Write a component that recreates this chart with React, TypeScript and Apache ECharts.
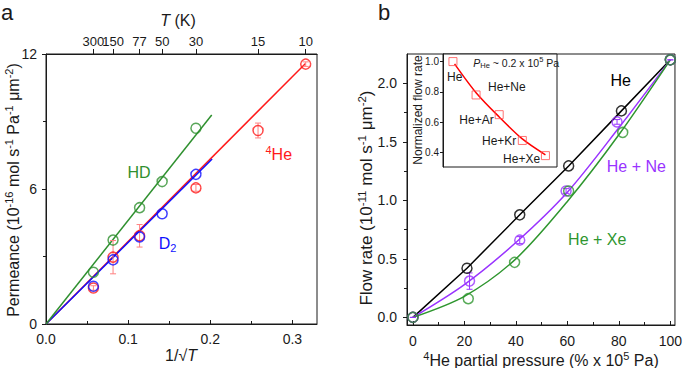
import { useEffect, useRef } from 'react';
import * as echarts from 'echarts';

// ---------- Panel a data ----------
const temperatures = [300, 150, 77, 50, 30, 15, 10];
const he4Permeance = [1.6, 2.97, 3.92, null, 6.05, 8.6, 11.55];
const he4Error = [0.1, 0.74, 0.5, null, 0.15, 0.33, 0.1];
const d2Permeance = [1.68, 2.85, 3.87, 4.9, 6.65, null, null];
const hdPermeance = [2.3, 3.73, 5.17, 6.33, 8.7, null, null];
const he4Fit = [[0, 0], [0.316, 11.58]];
const d2Fit = [[0, 0], [0.2023, 7.33]];
const hdFit = [[0, 0], [0.2018, 9.29]];
const aXTicks = [0, 0.1, 0.2, 0.3];
const aXMinor = [0.05, 0.15, 0.25];
const aYTicks = [0, 6, 12];
const aYMinor = [3, 9];

// ---------- Panel b data ----------
const heX = [0, 21, 41.5, 60.5, 81, 100];
const heY = [0, 0.42, 0.876, 1.294, 1.764, 2.2];
const neX = [0, 22, 41.5, 59.5, 79.3, 100];
const neY = [0, 0.31, 0.66, 1.08, 1.67, 2.2];
const neErr = [0, 0.07, 0.03, 0.02, 0.02, 0];
const xeX = [0, 21.5, 39.5, 60.5, 81.5, 100];
const xeY = [0, 0.16, 0.47, 1.08, 1.58, 2.2];
const neFit = [[0, 0], [20, 0.28], [40, 0.64], [60, 1.07], [80, 1.62], [100, 2.2]];
const xeFit = [[0, 0], [20, 0.18], [40, 0.5], [60, 0.99], [80, 1.56], [100, 2.2]];
const bXTicks = [0, 20, 40, 60, 80, 100];
const bXMinor = [10, 30, 50, 70, 90];
const bYTicks = [0, 0.5, 1.0, 1.5, 2.0];
const bYMinor = [0.25, 0.75, 1.25, 1.75];

// ---------- Inset data ----------
const mixtures = ['He', 'He+Ne', 'He+Ar', 'He+Kr', 'He+Xe'];
const mixtureIndex = [1, 2, 3, 4, 5];
const normFlow = [1.0, 0.78, 0.65, 0.48, 0.38];
const insetFit = [[1.07, 0.985], [2, 0.795], [3, 0.635], [4, 0.49], [5, 0.385]];
const insetYTicks = [0.4, 0.6, 0.8, 1.0];

const FONT = '"Liberation Sans", Arial, Helvetica, sans-serif';
const AX = '#1a1a1a';
const RED = '#ff1a1a';
const BLUE = '#1010ff';
const GREEN_A = '#2f902f';
const GREEN_B = '#2f962f';
const PURPLE = '#9933ff';

const pairs = (xs: number[], ys: (number | null)[]) =>
  xs.map((x, i) => (ys[i] == null ? null : [x, ys[i] as number])).filter(Boolean) as number[][];
const invSqrtT = temperatures.map((t) => 1 / Math.sqrt(t));

function baseAxis(extra: any) {
  return {
    type: 'value',
    splitLine: { show: false },
    axisLine: { show: true, onZero: false, lineStyle: { color: AX, width: 1 } },
    ...extra,
  };
}

function errorSeries(points: number[][], color: string, xi: number, yi: number) {
  return {
    type: 'custom',
    xAxisIndex: xi,
    yAxisIndex: yi,
    data: points,
    encode: { x: 0, y: 1 },
    silent: true,
    z: 3,
    renderItem: (_p: any, api: any) => {
      const x = api.value(0);
      const y = api.value(1);
      const e = api.value(2);
      const top = api.coord([x, y + e]);
      const bot = api.coord([x, y - e]);
      const w = 3;
      const st = { stroke: color, lineWidth: 1 };
      return {
        type: 'group',
        children: [
          { type: 'line', shape: { x1: top[0], y1: top[1], x2: bot[0], y2: bot[1] }, style: st },
          { type: 'line', shape: { x1: top[0] - w, y1: top[1], x2: top[0] + w, y2: top[1] }, style: st },
          { type: 'line', shape: { x1: bot[0] - w, y1: bot[1], x2: bot[0] + w, y2: bot[1] }, style: st },
        ],
      };
    },
  };
}

function scatter(data: number[][], color: string, xi: number, yi: number, size = 10) {
  return {
    type: 'scatter',
    xAxisIndex: xi,
    yAxisIndex: yi,
    data,
    symbol: 'circle',
    symbolSize: size,
    itemStyle: { color: 'rgba(0,0,0,0)', borderColor: color, borderWidth: 1.5 },
    z: 4,
  };
}

function fitLine(data: number[][], color: string, xi: number, yi: number, smooth: boolean | number = false) {
  return {
    type: 'line',
    xAxisIndex: xi,
    yAxisIndex: yi,
    data,
    symbol: 'none',
    smooth,
    lineStyle: { color, width: 1.5 },
    silent: true,
    z: 2,
  };
}

const tickLabel = (size: number, margin: number, customValues: number[], formatter: any) => ({
  customValues,
  formatter,
  fontSize: size,
  fontFamily: FONT,
  color: AX,
  margin,
});

const option: any = {
  animation: false,
  backgroundColor: '#ffffff',
  textStyle: { fontFamily: FONT },
  grid: [
    { left: 46, top: 54, width: 271, height: 270, show: true, borderColor: AX, borderWidth: 1, backgroundColor: 'rgba(0,0,0,0)' },
    { left: 407, top: 54, width: 271, height: 271, show: true, borderColor: AX, borderWidth: 1, backgroundColor: 'rgba(0,0,0,0)' },
    { left: 443, top: 54, width: 114, height: 113, show: true, borderColor: AX, borderWidth: 1, backgroundColor: '#ffffff' },
  ],
  xAxis: [
    baseAxis({
      gridIndex: 0, position: 'bottom', min: 0, max: 0.33,
      axisTick: { inside: true, length: 4, customValues: aXTicks, lineStyle: { color: AX } },
      axisLabel: tickLabel(14, 8, aXTicks, (v: number) => v.toFixed(1)),
    }),
    baseAxis({
      gridIndex: 0, position: 'top', min: 0, max: 0.33,
      axisTick: { inside: false, length: 5, customValues: invSqrtT, lineStyle: { color: AX } },
      axisLabel: { show: false },
    }),
    baseAxis({
      gridIndex: 1, position: 'bottom', min: -2.3, max: 101.8,
      axisTick: { inside: true, length: 4, customValues: bXTicks, lineStyle: { color: AX } },
      axisLabel: tickLabel(14, 9, bXTicks, (v: number) => String(Math.round(v))),
    }),
    baseAxis({
      gridIndex: 2, position: 'bottom', min: 0.57, max: 5.5, show: false,
    }),
    baseAxis({
      gridIndex: 0, position: 'bottom', min: 0, max: 0.33,
      axisLine: { show: false, onZero: false },
      axisTick: { inside: true, length: 3, customValues: aXMinor, lineStyle: { color: AX } },
      axisLabel: { show: false },
    }),
    baseAxis({
      gridIndex: 1, position: 'bottom', min: -2.3, max: 101.8,
      axisLine: { show: false, onZero: false },
      axisTick: { inside: true, length: 3, customValues: bXMinor, lineStyle: { color: AX } },
      axisLabel: { show: false },
    }),
  ],
  yAxis: [
    baseAxis({
      gridIndex: 0, position: 'left', min: 0, max: 12,
      axisTick: { inside: false, length: 4, customValues: aYTicks, lineStyle: { color: AX } },
      axisLabel: tickLabel(14, 9, aYTicks, (v: number) => String(Math.round(v))),
    }),
    baseAxis({
      gridIndex: 1, position: 'left', min: -0.065, max: 2.25,
      axisTick: { inside: false, length: 4, customValues: bYTicks, lineStyle: { color: AX } },
      axisLabel: tickLabel(14, 10, bYTicks, (v: number) => v.toFixed(1)),
    }),
    baseAxis({
      gridIndex: 2, position: 'left', min: 0.305, max: 1.05,
      axisTick: { inside: false, length: 3, customValues: insetYTicks, lineStyle: { color: AX } },
      axisLabel: tickLabel(10, 4, insetYTicks, (v: number) => v.toFixed(1)),
    }),
    baseAxis({
      gridIndex: 0, position: 'left', min: 0, max: 12,
      axisLine: { show: false, onZero: false },
      axisTick: { inside: false, length: 3, customValues: aYMinor, lineStyle: { color: AX } },
      axisLabel: { show: false },
    }),
    baseAxis({
      gridIndex: 1, position: 'left', min: -0.065, max: 2.25,
      axisLine: { show: false, onZero: false },
      axisTick: { inside: false, length: 3, customValues: bYMinor, lineStyle: { color: AX } },
      axisLabel: { show: false },
    }),
  ],
  series: [
    // panel a
    fitLine(he4Fit, RED, 0, 0),
    fitLine(d2Fit, BLUE, 0, 0),
    fitLine(hdFit, GREEN_A, 0, 0),
    errorSeries(
      invSqrtT
        .map((x, i) => (he4Permeance[i] == null ? null : [x, he4Permeance[i] as number, he4Error[i] as number]))
        .filter(Boolean) as number[][],
      '#ff8080', 0, 0
    ),
    scatter(pairs(invSqrtT, he4Permeance), RED, 0, 0),
    scatter(pairs(invSqrtT, d2Permeance), BLUE, 0, 0),
    scatter(pairs(invSqrtT, hdPermeance), GREEN_A, 0, 0),
    // panel b
    fitLine(pairs(heX, heY), '#000000', 2, 1),
    fitLine(neFit, PURPLE, 2, 1, 0.3),
    fitLine(xeFit, GREEN_B, 2, 1, 0.3),
    errorSeries(neX.map((x, i) => [x, neY[i], neErr[i]]), PURPLE, 2, 1),
    scatter(pairs(heX, heY), '#000000', 2, 1),
    scatter(pairs(neX, neY), PURPLE, 2, 1),
    scatter(pairs(xeX, xeY), GREEN_B, 2, 1),
    // inset
    fitLine(insetFit, '#ff0000', 3, 2, 0.3),
    {
      type: 'scatter',
      xAxisIndex: 3,
      yAxisIndex: 2,
      data: pairs(mixtureIndex, normFlow),
      symbol: 'rect',
      symbolSize: 8,
      itemStyle: { color: 'rgba(0,0,0,0)', borderColor: '#ff5050', borderWidth: 1 },
      z: 4,
    },
  ],
};

const makeRich = (size: number, supSize: number, lh: number) => ({
  sup: { fontSize: supSize, lineHeight: lh, verticalAlign: 'top', fontFamily: FONT },
  sub: { fontSize: supSize, lineHeight: lh, verticalAlign: 'bottom', fontFamily: FONT },
  i: { fontStyle: 'italic', fontSize: size, fontFamily: FONT },
});

function txt(x: number, y: number, text: string, opts: any = {}) {
  const size = opts.fontSize ?? 16;
  return {
    type: 'text',
    x,
    y,
    rotation: opts.rotation ?? 0,
    z: 100,
    style: {
      text,
      fontSize: size,
      fontFamily: FONT,
      fill: opts.color ?? AX,
      lineHeight: opts.lineHeight ?? Math.round(size * 1.25),
      align: opts.align ?? 'center',
      textAlign: opts.align ?? 'center',
      verticalAlign: 'middle',
      textVerticalAlign: 'middle',
      rich: makeRich(size, opts.supSize ?? Math.round(size * 0.68), opts.supLH ?? Math.round(size * 0.7)),
    },
  };
}

export default function App() {
  const ref = useRef<HTMLDivElement>(null);
  useEffect(() => {
    const chart = echarts.init(ref.current!, null, { renderer: 'svg' });
    chart.setOption(option);
    const pA = (p: number[]) => chart.convertToPixel({ xAxisIndex: 0, yAxisIndex: 0 }, p) as number[];
    const pB = (p: number[]) => chart.convertToPixel({ xAxisIndex: 2, yAxisIndex: 1 }, p) as number[];
    const pI = (p: number[]) => chart.convertToPixel({ xAxisIndex: 3, yAxisIndex: 2 }, p) as number[];

    const hd = pA([0.1132, 6.72]);
    const d2 = pA([0.148, 3.6]);
    const he4 = pA([0.2834, 7.54]);
    const heB = pB([80.7, 2.02]);
    const neB = pB([86.8, 1.29]);
    const xeB = pB([71.6, 0.663]);
    const insetPos = [[1.078, 0.9], [3.33, 0.834], [2.02, 0.618], [3.0, 0.477], [3.97, 0.356]];
    const pHe = pI([1.88, 0.993]);
    const topY = pA([0, 12])[1];

    const graphic: any[] = [
      txt(1, 12, 'a', { fontSize: 22, align: 'left' }),
      txt(378, 12, 'b', { fontSize: 22, align: 'left' }),
      txt(178, 20, '{i|T} (K)', { fontSize: 16 }),
      txt(181, 355, '1/√{i|T}', { fontSize: 16 }),
      txt(13, 190, 'Permeance (10{sup|-16} mol s{sup|-1} Pa{sup|-1} μm{sup|-2})', { fontSize: 16, rotation: Math.PI / 2, lineHeight: 20, supSize: 11, supLH: 11 }),
      txt(366, 198, 'Flow rate (10{sup|-11} mol s{sup|-1} μm{sup|-2})', { fontSize: 17, rotation: Math.PI / 2, lineHeight: 21, supSize: 11.5, supLH: 11 }),
      txt(541, 360, '{sup|4}He partial pressure (% x 10{sup|5} Pa)', { fontSize: 16, lineHeight: 20, supSize: 11, supLH: 11 }),
      txt(418, 110, 'Normalized flow rate', { fontSize: 12, rotation: Math.PI / 2 }),
      txt(hd[0], hd[1], 'HD', { fontSize: 16, color: GREEN_A }),
      txt(d2[0], d2[1], 'D{sub|2}', { fontSize: 16, color: BLUE, lineHeight: 20, supSize: 11, supLH: 11 }),
      txt(he4[0], he4[1], '{sup|4}He', { fontSize: 16, color: RED, lineHeight: 20, supSize: 11, supLH: 11 }),
      txt(heB[0], heB[1], 'He', { fontSize: 16, color: '#000000' }),
      txt(neB[0], neB[1], 'He + Ne', { fontSize: 16, color: PURPLE }),
      txt(xeB[0], xeB[1], 'He + Xe', { fontSize: 16, color: GREEN_B }),
      txt(pHe[0], pHe[1], '{i|P}{sub|He} ~ 0.2 x 10{sup|5} Pa', { fontSize: 10.5, align: 'left', lineHeight: 14, supSize: 7.5, supLH: 8 }),
    ];
    temperatures.forEach((t, i) => {
      const p = pA([invSqrtT[i], 12]);
      graphic.push(txt(p[0], topY - 13, String(t), { fontSize: 13 }));
    });
    mixtures.forEach((m, i) => {
      const p = pI(insetPos[i]);
      graphic.push(txt(p[0], p[1], m, { fontSize: 12, color: AX }));
    });
    chart.setOption({ graphic });
    return () => chart.dispose();
  }, []);
  return <div ref={ref} style={{ position: 'absolute', left: 0, top: 0, width: 685, height: 368 }} />;
}
